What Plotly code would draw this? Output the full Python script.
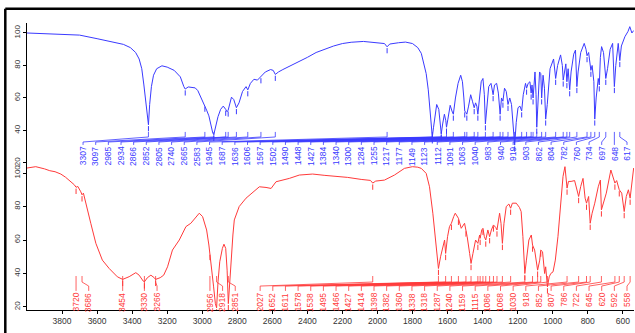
import numpy as np
import plotly.graph_objects as go

# ---------------- data ----------------
blue_wn = [4000, 3900, 3800, 3700, 3600, 3500, 3450, 3410, 3380, 3360, 3345, 3333, 3322, 3313, 3307,
           3300, 3290, 3278, 3260, 3230, 3200, 3160, 3125, 3105, 3097, 3080, 3060, 3040, 3025, 3005,
           2990, 2985, 2975, 2962, 2950, 2940, 2934, 2925, 2910, 2895, 2880, 2866, 2858, 2852, 2845,
           2833, 2820, 2805, 2790, 2770, 2750, 2740, 2725, 2705, 2685, 2665, 2640, 2610, 2595, 2583,
           2565, 2540, 2500, 2450, 2400, 2350, 2300, 2250, 2200, 2150, 2080, 2000, 1960, 1945, 1930,
           1880, 1840, 1800, 1770, 1750, 1735, 1722, 1710, 1700, 1692, 1687, 1680, 1672, 1662, 1650,
           1642, 1636, 1628, 1618, 1610, 1606, 1598, 1585, 1575, 1567, 1555, 1540, 1525, 1515, 1507,
           1502, 1495, 1490, 1480, 1468, 1458, 1448, 1440, 1433, 1427, 1418, 1408, 1398, 1390, 1384,
           1376, 1365, 1352, 1345, 1340, 1332, 1320, 1310, 1300, 1292, 1284, 1275, 1265, 1255, 1245,
           1235, 1225, 1217, 1208, 1198, 1187, 1177, 1168, 1155, 1149, 1140, 1130, 1123, 1118, 1112,
           1101, 1095, 1091, 1084, 1075, 1068, 1063, 1055, 1047, 1040, 1031, 1015, 995, 983, 972,
           955, 945, 940, 930, 925, 919, 912, 903, 895, 880, 870, 862, 855, 840, 820,
           810, 804, 795, 782, 775, 765, 760, 752, 740, 734, 728, 721, 710, 697, 687,
           672, 658, 648, 640, 626, 617, 608, 588, 570, 560, 548, 538]
blue_t = [100.0, 99.6, 99.2, 98.7, 96.5, 94.3, 93.0, 91.0, 88.0, 84.0, 78.0, 68.0, 56.0, 46.0, 43.5,
          56.0, 67.0, 74.0, 78.0, 79.8, 79.0, 77.0, 73.0, 67.0, 65.5, 66.8, 66.5, 66.2, 64.5, 60.0,
          56.5, 55.5, 52.5, 49.0, 43.0, 38.5, 37.5, 42.0, 48.5, 53.0, 55.0, 53.0, 51.5, 52.5, 56.0,
          60.5, 59.0, 54.0, 57.0, 64.0, 67.0, 65.0, 69.0, 71.5, 71.0, 73.0, 76.0, 77.5, 77.0, 74.5,
          76.0, 77.5, 79.5, 82.0, 85.0, 88.0, 90.0, 92.0, 93.5, 94.3, 94.8, 94.2, 93.5, 91.5, 93.2,
          94.0, 94.4, 93.5, 91.0, 87.5, 81.0, 75.0, 65.0, 54.0, 42.0, 36.0, 42.0, 50.0, 56.0, 53.0,
          46.0, 38.0, 44.0, 50.0, 46.0, 42.0, 47.0, 55.5, 52.0, 50.0, 60.0, 69.0, 74.0, 70.0, 60.0,
          52.0, 51.0, 50.0, 55.0, 62.0, 58.0, 54.0, 57.0, 55.0, 50.0, 60.0, 70.0, 72.0, 62.0, 44.0,
          55.0, 67.0, 69.0, 65.0, 62.0, 68.0, 69.0, 63.0, 50.0, 60.0, 58.0, 66.0, 64.0, 56.0, 60.0,
          56.0, 42.0, 31.0, 45.0, 54.0, 55.0, 52.0, 62.0, 69.0, 66.0, 69.0, 70.0, 63.0, 68.0, 60.0,
          76.0, 62.0, 42.0, 55.0, 76.0, 75.0, 60.0, 74.0, 66.0, 47.0, 56.0, 78.0, 84.0, 72.0, 80.0,
          86.5, 80.0, 71.0, 80.0, 81.0, 70.0, 78.0, 65.0, 76.0, 87.0, 89.5, 67.0, 76.0, 88.0, 93.6,
          90.0, 86.0, 88.0, 77.0, 80.0, 70.0, 47.0, 60.0, 72.0, 68.0, 85.0, 91.6, 88.0, 72.0, 78.0,
          90.0, 93.6, 67.0, 80.0, 93.6, 83.0, 92.0, 97.7, 101.0, 103.9, 100.0, 101.5]

red_wn = [4000, 3950, 3900, 3870, 3840, 3807, 3780, 3750, 3730, 3720, 3710, 3693, 3686, 3678, 3661,
          3636, 3607, 3570, 3531, 3484, 3454, 3417, 3379, 3360, 3337, 3330, 3313, 3293, 3274, 3266,
          3240, 3220, 3198, 3170, 3131, 3093, 3065, 3036, 3017, 2998, 2975, 2962, 2956, 2945, 2935,
          2925, 2918, 2910, 2900, 2885, 2876, 2866, 2858, 2851, 2844, 2836, 2825, 2817, 2800, 2789,
          2750, 2713, 2674, 2636, 2607, 2579, 2503, 2446, 2370, 2300, 2250, 2170, 2093, 2040, 2027,
          2010, 1960, 1903, 1846, 1800, 1770, 1750, 1722, 1703, 1684, 1665, 1652, 1640, 1625, 1617,
          1611, 1600, 1589, 1578, 1565, 1556, 1538, 1522, 1503, 1495, 1488, 1474, 1466, 1455, 1440,
          1427, 1417, 1414, 1405, 1398, 1390, 1382, 1370, 1360, 1350, 1338, 1325, 1318, 1303, 1295,
          1287, 1278, 1265, 1250, 1240, 1230, 1208, 1190, 1180, 1170, 1159, 1150, 1136, 1122, 1115,
          1103, 1086, 1074, 1068, 1058, 1046, 1040, 1030, 1020, 1011, 998, 985, 970, 954, 941,
          930, 918, 910, 895, 875, 862, 852, 840, 827, 815, 807, 795, 786, 775, 760,
          740, 728, 722, 712, 694, 668, 645, 635, 620, 606, 592, 580, 568, 558, 548, 538]
red_t = [103.0, 103.8, 102.5, 101.4, 100.8, 99.4, 97.5, 94.8, 93.0, 91.5, 92.0, 88.8, 87.0, 88.0, 80.0,
         70.0, 58.0, 48.0, 43.0, 38.0, 36.5, 38.1, 40.5, 39.0, 35.5, 35.0, 37.5, 39.0, 37.5, 36.5,
         37.5, 39.0, 44.0, 54.0, 60.0, 68.0, 70.0, 74.0, 76.0, 74.0, 66.0, 57.0, 52.0, 42.0, 32.0,
         22.0, 19.5, 35.0, 47.0, 55.0, 57.5, 55.0, 42.0, 22.0, 35.0, 48.0, 63.0, 72.0, 77.0, 80.0,
         85.0, 88.5, 91.8, 91.4, 90.8, 94.8, 96.8, 98.8, 99.4, 98.6, 98.2, 97.4, 96.2, 95.6, 94.0,
         95.2, 95.8, 98.8, 102.8, 103.8, 103.5, 102.8, 99.8, 91.8, 76.0, 56.0, 43.0, 50.0, 56.0, 60.0,
         52.0, 62.0, 68.0, 70.0, 74.0, 76.0, 73.0, 67.0, 70.0, 66.0, 62.0, 52.0, 46.0, 52.0, 60.0,
         58.0, 63.0, 61.0, 66.0, 67.0, 62.0, 60.0, 66.0, 62.0, 66.0, 69.0, 67.5, 66.0, 76.0, 70.0,
         58.0, 70.0, 80.0, 81.5, 79.0, 82.0, 82.0, 79.5, 77.0, 62.0, 40.0, 48.0, 60.0, 63.0, 57.0,
         54.0, 42.0, 48.0, 54.0, 53.0, 40.0, 44.0, 32.0, 38.0, 40.0, 41.0, 48.0, 62.0, 84.0, 98.0,
         103.8, 91.0, 95.0, 95.0, 95.5, 90.0, 86.0, 92.0, 96.8, 85.0, 82.0, 86.0, 70.0, 76.0, 82.0,
         91.8, 95.8, 78.0, 82.0, 88.0, 101.8, 94.0, 95.5, 90.0, 88.0, 77.0, 86.0, 90.0, 85.0, 94.0, 103.0]

blue_peaks = [3307, 3097, 2985, 2934, 2866, 2852, 2805, 2740, 2665, 2583, 1945, 1687, 1636, 1606,
              1567, 1502, 1490, 1448, 1427, 1384, 1340, 1300, 1284, 1255, 1217, 1177, 1149, 1123,
              1112, 1091, 1063, 1040, 983, 940, 919, 903, 862, 804, 782, 760, 734, 697, 648, 617]
red_peaks = [3720, 3686, 3454, 3330, 3266, 2956, 2918, 2851, 2027, 1652, 1611, 1578, 1538, 1495,
             1466, 1427, 1414, 1398, 1382, 1360, 1338, 1318, 1287, 1240, 1159, 1115, 1086, 1068,
             1030, 918, 852, 807, 786, 722, 645, 620, 592, 558]

x_ticks = [3800, 3600, 3400, 3200, 3000, 2800, 2600, 2400, 2200, 2000, 1800, 1600, 1400, 1200, 1000, 800, 600]
y_ticks = [20, 40, 60, 80, 100]

# ---------------- layout constants ----------------
W, H = 635, 333
XL, XRp = 27, 634
XRANGE = [4000, 536]
PPU = (XRp - XL) / (XRANGE[0] - XRANGE[1])   # px per wavenumber
GAP = 12.65 / PPU                               # min label spacing in wn
RIGHT_LIMIT = XRANGE[0] - (627 - XL) / PPU      # rightmost label position (wn)

BLUE = "#3a3aff"
RED = "#ff3a3a"


def layout_labels(peaks):
    pos = list(peaks)
    for i in range(1, len(pos)):
        pos[i] = min(pos[i], pos[i - 1] - GAP)
    pos[-1] = max(pos[-1], RIGHT_LIMIT)
    for i in range(len(pos) - 2, -1, -1):
        pos[i] = max(pos[i], pos[i + 1] + GAP)
    return pos


def leaders(peaks, wn, t, v1, v2, l1, l2):
    xs, ys, dx, dy = [], [], [], []
    pos = layout_labels(peaks)
    wn_a = np.array(wn[::-1], float)
    t_a = np.array(t[::-1], float)
    for p, q in zip(peaks, pos):
        xs += [p, p, q, q, None]
        ys += [v1, v2, l1, l2, None]
        tv = float(np.interp(p, wn_a, t_a))
        dx += [p, p, None]
        dy += [tv - 0.8, tv - 4.0, None]
    return pos, xs, ys, dx, dy


fig = go.Figure()

# top (blue) spectrum
fig.add_trace(go.Scatter(x=blue_wn, y=blue_t, mode="lines", line=dict(color=BLUE, width=1),
                         xaxis="x", yaxis="y", hoverinfo="skip", showlegend=False))
bpos, bx, by, bdx, bdy = leaders(blue_peaks, blue_wn, blue_t, 39.1, 36.0, 32.9, 31.1)
fig.add_trace(go.Scatter(x=bx, y=by, mode="lines", line=dict(color=BLUE, width=0.8),
                         xaxis="x", yaxis="y", hoverinfo="skip", showlegend=False))
fig.add_trace(go.Scatter(x=bdx, y=bdy, mode="lines", line=dict(color=BLUE, width=1),
                         xaxis="x", yaxis="y", hoverinfo="skip", showlegend=False))

# bottom (red) spectrum
fig.add_trace(go.Scatter(x=red_wn, y=red_t, mode="lines", line=dict(color=RED, width=1),
                         xaxis="x2", yaxis="y2", hoverinfo="skip", showlegend=False))
rpos, rx, ry, rdx, rdy = leaders(red_peaks, red_wn, red_t, 38.5, 34.9, 32.5, 29.6)
fig.add_trace(go.Scatter(x=rx, y=ry, mode="lines", line=dict(color=RED, width=0.8),
                         xaxis="x2", yaxis="y2", hoverinfo="skip", showlegend=False))
fig.add_trace(go.Scatter(x=rdx, y=rdy, mode="lines", line=dict(color=RED, width=1),
                         xaxis="x2", yaxis="y2", hoverinfo="skip", showlegend=False))

ann = []
for p, q in zip(blue_peaks, bpos):
    ann.append(dict(x=q, y=30.6, xref="x", yref="y", text=str(p), showarrow=False,
                    textangle=-90, xanchor="center", yanchor="top", borderpad=0,
                    font=dict(family="Liberation Sans", size=8.5, color=BLUE)))
for p, q in zip(red_peaks, rpos):
    ann.append(dict(x=q, y=29.0, xref="x2", yref="y2", text=str(p), showarrow=False,
                    textangle=-90, xanchor="center", yanchor="top", borderpad=0,
                    font=dict(family="Liberation Sans", size=8.5, color=RED)))

ytop = 1 - 8.7 / H
xfr = 5.3 / W
shapes = [
    dict(type="line", xref="paper", yref="paper", x0=xfr, x1=1.0, y0=ytop, y1=ytop,
         line=dict(color="black", width=2.5)),
    dict(type="line", xref="paper", yref="paper", x0=xfr, x1=xfr, y0=0, y1=ytop,
         line=dict(color="black", width=2.5)),
]

tickfont = dict(family="Liberation Sans", size=8, color="#333333")
xdom = [XL / W, XRp / W]
fig.update_layout(
    width=W, height=H, margin=dict(l=0, r=0, t=0, b=0),
    paper_bgcolor="white", plot_bgcolor="white",
    showlegend=False, annotations=ann, shapes=shapes,
    xaxis=dict(domain=xdom, range=XRANGE, anchor="y", showline=False, showticklabels=False,
               ticks="", showgrid=False, zeroline=False),
    yaxis=dict(domain=[1 - 168 / H, 1 - 23 / H], range=[16.9, 106.15], anchor="x",
               showline=True, linecolor="black", linewidth=1, ticks="outside", ticklen=3,
               tickcolor="black", tickvals=y_ticks, tickangle=-90, tickfont=tickfont,
               showgrid=False, zeroline=False),
    xaxis2=dict(domain=xdom, range=XRANGE, anchor="y2", showline=True, linecolor="black",
                linewidth=1, ticks="outside", ticklen=3, tickcolor="black", tickvals=x_ticks,
                tickfont=dict(family="Liberation Sans", size=8.5, color="#333333"),
                showgrid=False, zeroline=False),
    yaxis2=dict(domain=[1 - 310 / H, 1 - 163 / H], range=[18.2, 106.0], anchor="x2",
                showline=True, linecolor="black", linewidth=1, ticks="outside", ticklen=3,
                tickcolor="black", tickvals=y_ticks, tickangle=-90, tickfont=tickfont,
                showgrid=False, zeroline=False),
)

fig.write_html("out.html")
